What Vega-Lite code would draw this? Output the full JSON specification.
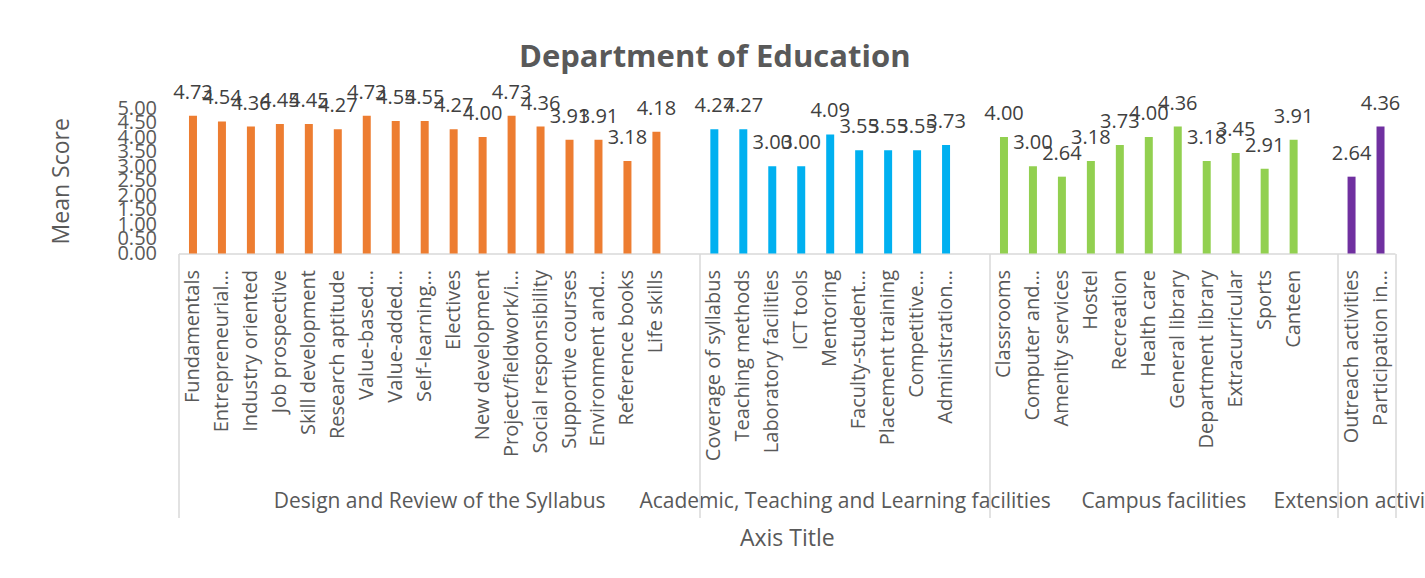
{
  "$schema": "https://vega.github.io/schema/vega-lite/v6.json",
  "autosize": {"type": "none"},
  "width": 1216.5,
  "height": 145.5,
  "padding": {"left": 178.5, "top": 108, "right": 30, "bottom": 324.5},
  "background": "white",
  "config": {"font": "Open Sans", "view": {"stroke": null}},
  "title": {"text": "Department of Education", "fontSize": 31, "fontWeight": "bold", "color": "#595959", "anchor": "middle", "frame": "group", "dx": -72, "offset": 9},
  "datasets": {
    "items": [
      {"item": "Fundamentals", "group": "Design and Review of the Syllabus", "value": 4.73},
      {"item": "Entrepreneurial…", "group": "Design and Review of the Syllabus", "value": 4.54},
      {"item": "Industry oriented", "group": "Design and Review of the Syllabus", "value": 4.36},
      {"item": "Job prospective", "group": "Design and Review of the Syllabus", "value": 4.45},
      {"item": "Skill development", "group": "Design and Review of the Syllabus", "value": 4.45},
      {"item": "Research aptitude", "group": "Design and Review of the Syllabus", "value": 4.27},
      {"item": "Value-based…", "group": "Design and Review of the Syllabus", "value": 4.73},
      {"item": "Value-added…", "group": "Design and Review of the Syllabus", "value": 4.55},
      {"item": "Self-learning…", "group": "Design and Review of the Syllabus", "value": 4.55},
      {"item": "Electives", "group": "Design and Review of the Syllabus", "value": 4.27},
      {"item": "New development", "group": "Design and Review of the Syllabus", "value": 4.0},
      {"item": "Project/fieldwork/i…", "group": "Design and Review of the Syllabus", "value": 4.73},
      {"item": "Social responsibility", "group": "Design and Review of the Syllabus", "value": 4.36},
      {"item": "Supportive courses", "group": "Design and Review of the Syllabus", "value": 3.91},
      {"item": "Environment and…", "group": "Design and Review of the Syllabus", "value": 3.91},
      {"item": "Reference books", "group": "Design and Review of the Syllabus", "value": 3.18},
      {"item": "Life skills", "group": "Design and Review of the Syllabus", "value": 4.18},
      {"item": "Coverage of syllabus", "group": "Academic, Teaching and Learning facilities", "value": 4.27},
      {"item": "Teaching methods", "group": "Academic, Teaching and Learning facilities", "value": 4.27},
      {"item": "Laboratory facilities", "group": "Academic, Teaching and Learning facilities", "value": 3.0},
      {"item": "ICT tools", "group": "Academic, Teaching and Learning facilities", "value": 3.0},
      {"item": "Mentoring", "group": "Academic, Teaching and Learning facilities", "value": 4.09},
      {"item": "Faculty-student…", "group": "Academic, Teaching and Learning facilities", "value": 3.55},
      {"item": "Placement training", "group": "Academic, Teaching and Learning facilities", "value": 3.55},
      {"item": "Competitive…", "group": "Academic, Teaching and Learning facilities", "value": 3.55},
      {"item": "Administration…", "group": "Academic, Teaching and Learning facilities", "value": 3.73},
      {"item": "Classrooms", "group": "Campus facilities", "value": 4.0},
      {"item": "Computer and…", "group": "Campus facilities", "value": 3.0},
      {"item": "Amenity services", "group": "Campus facilities", "value": 2.64},
      {"item": "Hostel", "group": "Campus facilities", "value": 3.18},
      {"item": "Recreation", "group": "Campus facilities", "value": 3.73},
      {"item": "Health care", "group": "Campus facilities", "value": 4.0},
      {"item": "General library", "group": "Campus facilities", "value": 4.36},
      {"item": "Department library", "group": "Campus facilities", "value": 3.18},
      {"item": "Extracurricular", "group": "Campus facilities", "value": 3.45},
      {"item": "Sports", "group": "Campus facilities", "value": 2.91},
      {"item": "Canteen", "group": "Campus facilities", "value": 3.91},
      {"item": "Outreach activities", "group": "Extension activities", "value": 2.64},
      {"item": "Participation in…", "group": "Extension activities", "value": 4.36}
    ],
    "groups": [
      {"group": "Design and Review of the Syllabus", "start": 0, "mid": 9},
      {"group": "Academic, Teaching and Learning facilities", "start": 18, "mid": 23},
      {"group": "Campus facilities", "start": 28, "mid": 34},
      {"group": "Extension activities", "start": 40, "mid": 41}
    ]
  },
  "layer": [
    {
      "data": {"name": "items"},
      "encoding": {
        "x": {
          "field": "item", "type": "nominal",
          "scale": {
            "domain": ["Fundamentals", "Entrepreneurial…", "Industry oriented", "Job prospective", "Skill development", "Research aptitude", "Value-based…", "Value-added…", "Self-learning…", "Electives", "New development", "Project/fieldwork/i…", "Social responsibility", "Supportive courses", "Environment and…", "Reference books", "Life skills", "gap1",
              "Coverage of syllabus", "Teaching methods", "Laboratory facilities", "ICT tools", "Mentoring", "Faculty-student…", "Placement training", "Competitive…", "Administration…", "gap2",
              "Classrooms", "Computer and…", "Amenity services", "Hostel", "Recreation", "Health care", "General library", "Department library", "Extracurricular", "Sports", "Canteen", "gap3",
              "Outreach activities", "Participation in…"],
            "paddingInner": 0.724, "paddingOuter": 0.362
          },
          "axis": {
            "orient": "bottom", "title": null, "labelAngle": -90, "labelFontSize": 20, "labelColor": "#595959",
            "labelPadding": 16, "labelLimit": 0, "ticks": false, "domainColor": "#d9d9d9", "domainWidth": 1.5,
            "labelExpr": "indexof(datum.value, 'gap') === 0 ? '' : datum.value"
          }
        },
        "y": {
          "field": "value", "type": "quantitative",
          "scale": {"domain": [0, 5]},
          "axis": {
            "values": [0, 0.5, 1, 1.5, 2, 2.5, 3, 3.5, 4, 4.5, 5], "format": ".2f",
            "title": "Mean Score", "titleFontSize": 23, "titleFontWeight": "normal", "titleColor": "#595959", "titlePadding": 43,
            "labelFontSize": 20, "labelColor": "#595959", "labelPadding": 22, "labelOverlap": false,
            "ticks": false, "domain": false, "grid": false
          }
        }
      },
      "layer": [
        {
          "mark": {"type": "bar"},
          "encoding": {
            "color": {
              "field": "group", "type": "nominal",
              "scale": {
                "domain": ["Design and Review of the Syllabus", "Academic, Teaching and Learning facilities", "Campus facilities", "Extension activities"],
                "range": ["#ED7D31", "#00B0F0", "#92D050", "#7030A0"]
              },
              "legend": null
            }
          }
        },
        {
          "mark": {"type": "text", "fontSize": 20, "color": "#404040", "baseline": "middle", "dy": -23},
          "encoding": {"text": {"field": "value", "type": "quantitative", "format": ".2f"}}
        }
      ]
    },
    {
      "data": {"name": "groups"},
      "mark": {"type": "point", "opacity": 0},
      "encoding": {
        "x": {
          "field": "mid", "type": "quantitative",
          "scale": {"domain": [0, 42], "nice": false, "zero": false},
          "axis": {
            "orient": "bottom", "title": null, "values": [9, 23, 34, 41], "grid": false, "ticks": false, "domain": false,
            "labelFontSize": 21, "labelColor": "#595959", "labelPadding": 237, "labelFlush": false, "labelOverlap": false, "labelLimit": 0,
            "labelExpr": "datum.value == 9 ? 'Design and Review of the Syllabus' : datum.value == 23 ? 'Academic, Teaching and Learning facilities' : datum.value == 34 ? 'Campus facilities' : 'Extension activities'"
          }
        }
      }
    },
    {
      "data": {"name": "groups"},
      "mark": {"type": "point", "opacity": 0},
      "encoding": {
        "x": {
          "field": "start", "type": "quantitative",
          "scale": {"domain": [0, 42], "nice": false, "zero": false},
          "axis": {
            "orient": "bottom", "title": "Axis Title", "titleFontSize": 23, "titleFontWeight": "normal", "titleColor": "#595959",
            "titleY": 285, "titleBaseline": "middle",
            "values": [0, 18, 28, 40, 42], "grid": false, "labels": false, "domain": false,
            "ticks": true, "tickSize": 264, "tickColor": "#d9d9d9", "tickWidth": 1.5
          }
        }
      }
    }
  ],
  "resolve": {"scale": {"x": "independent"}}
}
